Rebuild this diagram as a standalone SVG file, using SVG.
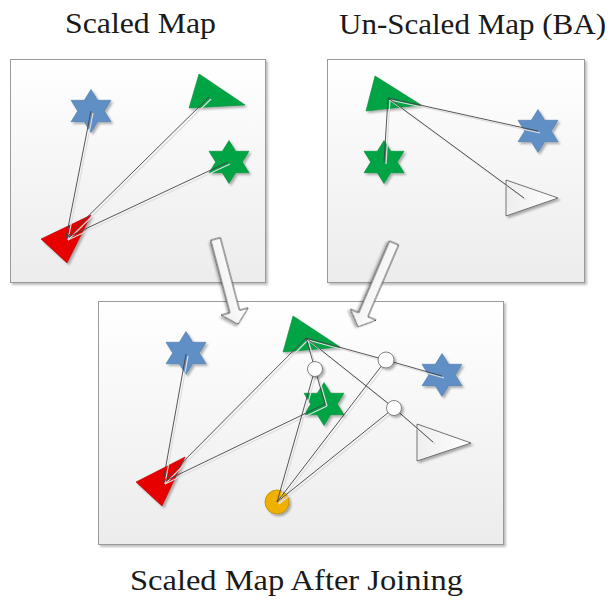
<svg xmlns="http://www.w3.org/2000/svg" width="615" height="601" viewBox="0 0 615 601">
<defs>
<linearGradient id="panelGrad" x1="0" y1="0" x2="0" y2="1">
<stop offset="0" stop-color="#ffffff"/>
<stop offset="1" stop-color="#ececec"/>
</linearGradient>
<linearGradient id="whiteGrad" x1="0" y1="0" x2="1" y2="0">
<stop offset="0" stop-color="#eeeeee"/>
<stop offset="1" stop-color="#ffffff"/>
</linearGradient>
<linearGradient id="arrowGrad" x1="0" y1="0" x2="0" y2="1">
<stop offset="0" stop-color="#ffffff"/>
<stop offset="1" stop-color="#eeeeee"/>
</linearGradient>
<filter id="shadow" x="-20%" y="-20%" width="150%" height="150%">
<feDropShadow dx="2" dy="2" stdDeviation="1.2" flood-color="#000" flood-opacity="0.3"/>
</filter>
<filter id="pshadow" x="-5%" y="-5%" width="110%" height="110%">
<feDropShadow dx="2" dy="2" stdDeviation="1.2" flood-color="#000" flood-opacity="0.25"/>
</filter>
<path id="star" d="M0,-21.5 L6.7,-10.75 L20,-10.75 L13.3,0 L20,10.75 L6.7,10.75 L0,21.5 L-6.7,10.75 L-20,10.75 L-13.3,0 L-20,-10.75 L-6.7,-10.75 Z"/>
<style>
.title{font-family:"Liberation Serif","DejaVu Serif",serif;font-size:30px;fill:#1a1a1a;}
.panel{fill:url(#panelGrad);stroke:#9a9a9a;stroke-width:1;filter:url(#pshadow);}
.blue{fill:#5f8fc5;stroke:#4a77a8;stroke-width:0.6;filter:url(#shadow);}
.green{fill:#00a444;stroke:#008a38;stroke-width:0.6;filter:url(#shadow);}
.red{fill:#e60000;stroke:#b00000;stroke-width:0.6;filter:url(#shadow);}
.wtri{fill:url(#whiteGrad);stroke:#555;stroke-width:0.8;filter:url(#shadow);}
.yellow{fill:#f0b000;stroke:#c08800;stroke-width:0.8;filter:url(#shadow);}
.join{fill:#ffffff;stroke:#666;stroke-width:0.8;filter:url(#shadow);}
.arrow{fill:url(#arrowGrad);stroke:#333;stroke-width:0.9;filter:url(#shadow);}
.conn line{stroke:#444;stroke-width:0.9;}
.connsh line{stroke:#dddddd;stroke-width:1.2;}
</style>
</defs>

<text class="title" x="65" y="33" textLength="151" lengthAdjust="spacingAndGlyphs">Scaled Map</text>
<text class="title" x="339" y="34" textLength="267" lengthAdjust="spacingAndGlyphs">Un-Scaled Map (BA)</text>
<text class="title" x="130" y="590" textLength="333" lengthAdjust="spacingAndGlyphs">Scaled Map After Joining</text>

<g id="panel-scaled"><rect class="panel" x="10.5" y="59.5" width="255" height="223"/></g>
<g id="panel-unscaled"><rect class="panel" x="327.5" y="59.5" width="257" height="223"/></g>
<g id="panel-joined"><rect class="panel" x="98.5" y="301.5" width="405" height="243"/></g>

<!-- Panel 1 nodes -->
<g id="p1-blue-star"><use href="#star" class="blue" x="91" y="111"/></g>
<g id="p1-green-tri"><polygon class="green" points="199,74 245,105 189,108"/></g>
<g id="p1-green-star"><use href="#star" class="green" x="229" y="162"/></g>
<g id="p1-red-tri"><polygon class="red" points="91,215 41,239 67,263"/></g>

<!-- Panel 2 nodes -->
<g id="p2-green-tri"><polygon class="green" points="375,76 421,105 366,111"/></g>
<g id="p2-green-star"><use href="#star" class="green" x="384" y="162"/></g>
<g id="p2-blue-star"><use href="#star" class="blue" x="538" y="131"/></g>
<g id="p2-white-tri"><polygon class="wtri" points="506,180 558,198 506,216"/></g>

<!-- Panel 3 nodes -->
<g id="p3-green-tri"><polygon class="green" points="293,316 340,347 283,352"/></g>
<g id="p3-blue-star-1"><use href="#star" class="blue" x="186" y="353"/></g>
<g id="p3-green-star"><use href="#star" class="green" x="324" y="404"/></g>
<g id="p3-blue-star-2"><use href="#star" class="blue" x="442" y="375"/></g>
<g id="p3-white-tri"><polygon class="wtri" points="417,424 471,443 417,461"/></g>
<g id="p3-red-tri"><polygon class="red" points="185,457 136,482 162,506"/></g>
<g id="p3-yellow"><circle class="yellow" cx="277" cy="502" r="12"/></g>

<!-- Arrows -->
<g id="arrow-1" transform="translate(215.5,239) rotate(75.2)"><polygon class="arrow" points="0,-5 75,-5 75,-14 88,0 75,14 75,5 0,5"/></g>
<g id="arrow-2" transform="translate(394,243) rotate(113.2)"><polygon class="arrow" points="0,-5 78,-5 78,-14 91,0 78,14 78,5 0,5"/></g>

<!-- Connectors -->
<g id="connectors">
<g class="connsh" transform="translate(2,2)">
<line x1="66" y1="238" x2="91" y2="111"/>
<line x1="66" y1="238" x2="209" y2="97"/>
<line x1="66" y1="238" x2="228" y2="162"/>
<line x1="388" y1="98" x2="384" y2="162"/>
<line x1="388" y1="98" x2="538" y2="131"/>
<line x1="388" y1="98" x2="524" y2="198"/>
<line x1="163" y1="482" x2="186" y2="354"/>
<line x1="163" y1="482" x2="306" y2="338"/>
<line x1="163" y1="482" x2="325" y2="404"/>
<line x1="306" y1="338" x2="315" y2="369"/>
<line x1="306" y1="338" x2="386" y2="360"/>
<line x1="306" y1="338" x2="394" y2="408"/>
<line x1="315" y1="369" x2="325" y2="404"/>
<line x1="386" y1="360" x2="442" y2="376"/>
<line x1="394" y1="408" x2="433" y2="442"/>
<line x1="277" y1="502" x2="315" y2="369"/>
<line x1="277" y1="502" x2="386" y2="360"/>
<line x1="277" y1="502" x2="394" y2="408"/>
</g>
<g class="conn">
<line x1="66" y1="238" x2="91" y2="111"/>
<line x1="66" y1="238" x2="209" y2="97"/>
<line x1="66" y1="238" x2="228" y2="162"/>
<line x1="388" y1="98" x2="384" y2="162"/>
<line x1="388" y1="98" x2="538" y2="131"/>
<line x1="388" y1="98" x2="524" y2="198"/>
<line x1="163" y1="482" x2="186" y2="354"/>
<line x1="163" y1="482" x2="306" y2="338"/>
<line x1="163" y1="482" x2="325" y2="404"/>
<line x1="306" y1="338" x2="315" y2="369"/>
<line x1="306" y1="338" x2="386" y2="360"/>
<line x1="306" y1="338" x2="394" y2="408"/>
<line x1="315" y1="369" x2="325" y2="404"/>
<line x1="386" y1="360" x2="442" y2="376"/>
<line x1="394" y1="408" x2="433" y2="442"/>
<line x1="277" y1="502" x2="315" y2="369"/>
<line x1="277" y1="502" x2="386" y2="360"/>
<line x1="277" y1="502" x2="394" y2="408"/>
</g>
</g>

<!-- Join nodes -->
<g id="p3-join-1"><circle class="join" cx="315" cy="369" r="7.5"/></g>
<g id="p3-join-2"><circle class="join" cx="386" cy="360" r="8"/></g>
<g id="p3-join-3"><circle class="join" cx="394" cy="408" r="7.5"/></g>
</svg>
